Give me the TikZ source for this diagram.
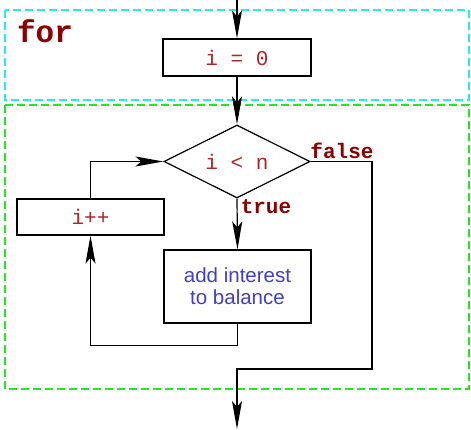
\documentclass[tikz,border=0pt]{standalone}
\usepackage{fontspec}
\usetikzlibrary{shapes.geometric,arrows.meta}
\newfontfamily\codefont{Liberation Mono}
\newfontfamily\bodyfont{Liberation Sans}
\definecolor{kwred}{RGB}{139,0,0}
\definecolor{codered}{RGB}{168,40,40}
\definecolor{bodyblue}{RGB}{64,64,192}
\definecolor{initcyan}{RGB}{40,235,235}
\definecolor{loopgreen}{RGB}{30,235,30}
\begin{document}
\begin{tikzpicture}[x=1pt,y=-1pt,
  flow/.style={line width=1.2pt,draw=black},
  arr/.style={flow,-{Stealth[length=28pt,width=10pt,inset=6pt]}},
  stepbox/.style={draw=black,line width=1.2pt,rectangle,inner sep=0pt,
    font=\codefont\fontsize{21}{24}\selectfont,text=codered},
  actionbox/.style={draw=black,line width=1.2pt,rectangle,inner sep=0pt,
    align=center,font=\bodyfont\fontsize{20.5}{22}\selectfont,text=bodyblue},
  testbox/.style={draw=black,line width=1.2pt,diamond,aspect=2,inner sep=0pt,
    minimum width=146pt,minimum height=73pt,
    font=\codefont\fontsize{21}{24}\selectfont,text=codered},
  branch/.style={font=\codefont\bfseries\fontsize{21}{24}\selectfont,text=kwred,inner sep=0pt},
  region/.style={dashed,dash pattern=on 8pt off 4pt,line width=1.2pt}]
\useasboundingbox (0,0) rectangle (471,429);

% initialisation and loop regions
\draw[region,draw=initcyan] (5,10) rectangle (469,100);
\draw[region,draw=loopgreen] (5,105) rectangle (469,389);
\node[branch,font=\codefont\bfseries\fontsize{31}{34}\selectfont] (kw) at (45,31) {for};

% flowchart nodes
\node[stepbox,minimum width=148pt,minimum height=37pt] (init) at (237,57.5) {i = 0};
\node[testbox] (cond) at (237,161.5) {i < n};
\node[actionbox,minimum width=147pt,minimum height=73pt] (body) at (237.5,286.5) {add interest\\to balance};
\node[stepbox,minimum width=147pt,minimum height=36pt] (inc) at (90.5,217) {i++};

\coordinate (entry) at (237,0);
\coordinate (exit) at (237,429);
\coordinate (falsecorner) at (372,369);

% connectors
\draw[arr] (entry) -- (init.north);
\draw[arr] (init.south) -- (cond.north);
\draw[arr] (cond.south) -- (body.north);
\draw[arr] (body.south) -- ++(0,22) -| (inc.south);
\draw[arr] (inc.north) |- (cond.west);
\draw[arr] (cond.east) -| (falsecorner) -| (exit);

% branch labels
\node[branch] (lt) at (266,207) {true};
\node[branch] (lf) at (342,151) {false};
\end{tikzpicture}
\end{document}
